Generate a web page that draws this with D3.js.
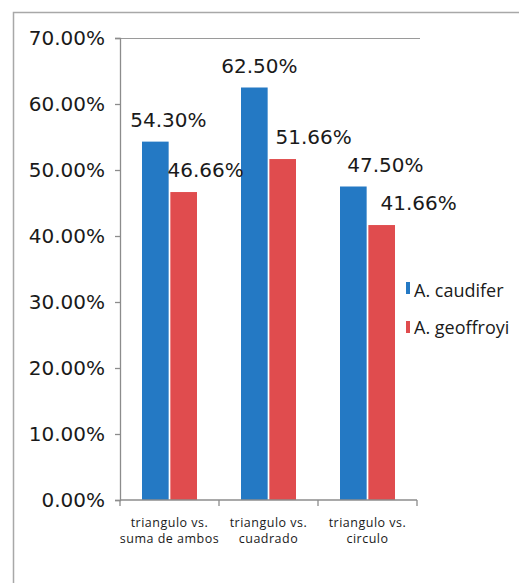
<!DOCTYPE html>
<html>
<head>
<meta charset="utf-8">
<script src="https://cdn.jsdelivr.net/npm/d3@7"></script>
<style>
  body { margin: 0; background: #fff; }
  svg { display: block; }
</style>
</head>
<body>
<svg id="chart"></svg>
<script>
const categories = [
  ['triangulo vs.', 'suma de ambos'],
  ['triangulo vs.', 'cuadrado'],
  ['triangulo vs.', 'circulo'],
];
const seriesNames = ['A. caudifer', 'A. geoffroyi'];
const caudifer = [54.3, 62.5, 47.5];
const geoffroyi = [46.66, 51.66, 41.66];
const yTicks = [0, 10, 20, 30, 40, 50, 60, 70];

// label nudges to the right, as placed in the original
const labelDx = [[13, 22], [5, 31], [32, 37]];

const colors = ['#2479c4', '#e04c4e'];
const W = 519, H = 583;
const plot = { left: 120, right: 417, top: 38, bottom: 500 };

const svg = d3.select('#chart').attr('width', W).attr('height', H);

// outer frame
svg.append('path')
  .attr('d', `M13.5,${H} V12.5 H${W}`)
  .attr('fill', 'none')
  .attr('stroke', '#a8a8a8')
  .attr('stroke-width', 1.5);

const idx = categories.map((d, i) => i);
const x0 = d3.scaleBand().domain(idx).range([plot.left, plot.right]);
const x1 = d3.scaleBand().domain([0, 1]).range([22, 77]).paddingInner(0.06);
const y = d3.scaleLinear().domain([0, 70]).range([plot.bottom, plot.top]);

// top border of plot area
svg.append('line')
  .attr('x1', plot.left).attr('x2', plot.right + 3)
  .attr('y1', plot.top + 0.5).attr('y2', plot.top + 0.5)
  .attr('stroke', '#9a9a9a').attr('stroke-width', 1.2);

const values = [caudifer, geoffroyi];
const rows = [];
values.forEach((vals, s) => vals.forEach((v, c) => rows.push({ s, c, v })));

svg.append('g').selectAll('rect')
  .data(rows)
  .join('rect')
  .attr('x', d => x0(d.c) + x1(d.s))
  .attr('y', d => y(d.v))
  .attr('width', x1.bandwidth())
  .attr('height', d => y(0) - y(d.v))
  .attr('fill', d => colors[d.s]);

// y axis
const yAxis = svg.append('g')
  .attr('transform', `translate(${plot.left},0)`)
  .call(d3.axisLeft(y).tickValues(yTicks).tickSize(5).tickPadding(10)
    .tickFormat(d => d.toFixed(2) + '%'));
yAxis.selectAll('line, path').attr('stroke', '#8c8c8c').attr('stroke-width', 1.3);
yAxis.selectAll('text')
  .attr('font-family', 'DejaVu Sans, sans-serif')
  .attr('font-size', 20)
  .attr('fill', '#1a1a1a');

// x axis
const xAxisG = svg.append('g')
  .attr('transform', `translate(0,${plot.bottom})`);
xAxisG.append('line')
  .attr('x1', plot.left).attr('x2', plot.right)
  .attr('stroke', '#8c8c8c').attr('stroke-width', 1.3);
xAxisG.selectAll('line.tick')
  .data(idx.concat([idx.length]))
  .join('line')
  .attr('class', 'tick')
  .attr('x1', d => d < idx.length ? x0(d) : plot.right)
  .attr('x2', d => d < idx.length ? x0(d) : plot.right)
  .attr('y1', 0).attr('y2', 6)
  .attr('stroke', '#8c8c8c').attr('stroke-width', 1.3);

// category labels, one text per line
const catLines = [];
categories.forEach((lines, i) => lines.forEach((t, j) => catLines.push({ t, i, j })));
svg.append('g').selectAll('text')
  .data(catLines)
  .join('text')
  .attr('x', d => x0(d.i) + x0.bandwidth() / 2)
  .attr('y', d => 527 + d.j * 16)
  .attr('text-anchor', 'middle')
  .attr('font-family', 'Open Sans, sans-serif')
  .attr('font-size', 12.5)
  .attr('letter-spacing', 0.5)
  .attr('fill', '#1a1a1a')
  .text(d => d.t);

// value labels
svg.append('g').selectAll('text')
  .data(rows)
  .join('text')
  .attr('x', d => x0(d.c) + x1(d.s) + x1.bandwidth() / 2 + labelDx[d.c][d.s])
  .attr('y', d => y(d.v) - 15)
  .attr('text-anchor', 'middle')
  .attr('font-family', 'DejaVu Sans, sans-serif')
  .attr('font-size', 20)
  .attr('fill', '#1a1a1a')
  .text(d => d.v.toFixed(2) + '%');

// legend
const legend = svg.append('g').selectAll('g')
  .data(seriesNames)
  .join('g')
  .attr('transform', (d, i) => `translate(406,${282 + i * 36})`);
legend.append('rect')
  .attr('width', 4).attr('height', 12)
  .attr('y', (d, i) => i * 3)
  .attr('fill', (d, i) => colors[i]);
legend.append('text')
  .attr('x', 8).attr('y', (d, i) => 15 + i * 1)
  .attr('font-family', 'Open Sans, sans-serif')
  .attr('font-size', 18)
  .attr('fill', '#1a1a1a')
  .text(d => d);
</script>
</body>
</html>
